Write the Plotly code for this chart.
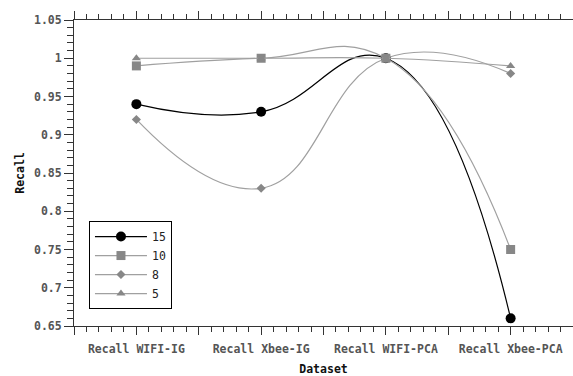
import plotly.graph_objects as go

categories = ["Recall WIFI-IG", "Recall Xbee-IG", "Recall WIFI-PCA", "Recall Xbee-PCA"]
series_names = ["15", "10", "8", "5"]
s15 = [0.94, 0.93, 1.0, 0.66]
s10 = [0.99, 1.0, 1.0, 0.75]
s8 = [0.92, 0.83, 1.0, 0.98]
s5 = [1.0, 1.0, 1.0, 0.99]
y_ticks = [0.65, 0.7, 0.75, 0.8, 0.85, 0.9, 0.95, 1.0, 1.05]
y_ticktext = ["0.65", "0.7", "0.75", "0.8", "0.85", "0.9", "0.95", "1", "1.05"]

xpos = list(range(len(categories)))
styles = [
    dict(line=dict(color="#000000", width=1.2), marker=dict(symbol="circle", size=10, color="#000000")),
    dict(line=dict(color="#a0a0a0", width=1.2), marker=dict(symbol="square", size=9, color="#878787")),
    dict(line=dict(color="#a0a0a0", width=1.2), marker=dict(symbol="diamond", size=7, color="#878787")),
    dict(line=dict(color="#a0a0a0", width=1.2), marker=dict(symbol="triangle-up", size=8, color="#878787")),
]

fig = go.Figure()
for name, vals, st in zip(series_names, [s15, s10, s8, s5], styles):
    fig.add_trace(go.Scatter(
        x=xpos, y=vals, name=name, mode="lines+markers",
        line=dict(shape="spline", smoothing=1.3, **st["line"]),
        marker=st["marker"],
    ))

major_x = [i * 0.5 - 0.5 for i in range(9)]
major_text = [f"<b>{categories[int(v)]}</b>" if abs(v - round(v)) < 1e-9 else "" for v in major_x]
y_text_bold = [f"<b>{t}</b>" for t in y_ticktext]

tickfont = dict(family="DejaVu Sans Mono", size=11.5, color="#555555")
fig.update_layout(
    width=573, height=376,
    margin=dict(l=74, r=0, t=20, b=50),
    paper_bgcolor="white", plot_bgcolor="white",
    font=dict(family="DejaVu Sans Mono", color="#222222"),
    showlegend=True,
    legend=dict(
        x=0.03, y=0.343, xanchor="left", yanchor="top",
        bordercolor="#000000", borderwidth=1, bgcolor="white",
        font=dict(family="DejaVu Sans Mono", size=11.5, color="#222222"),
        itemwidth=52, tracegroupgap=0,
    ),
    xaxis=dict(
        range=[-0.5, 3.5], tickmode="array", tickvals=major_x, ticktext=major_text,
        ticks="outside", ticklen=8, tickcolor="#333333", tickwidth=1,
        showline=True, linecolor="#333333", linewidth=1, mirror="ticks",
        showgrid=False, zeroline=False, tickfont=tickfont, automargin=False,
        ticklabelstandoff=4,
        minor=dict(tick0=-0.5, dtick=0.1, ticks="outside", ticklen=5, tickcolor="#333333", showgrid=False),
        title=dict(text="<b>Dataset</b>", font=dict(family="DejaVu Sans Mono", size=11.5, color="#111111"), standoff=10),
    ),
    yaxis=dict(
        range=[0.65, 1.05], tickmode="array", tickvals=y_ticks, ticktext=y_text_bold,
        ticks="outside", ticklen=9, tickcolor="#333333", tickwidth=1,
        showline=True, linecolor="#333333", linewidth=1,
        showgrid=False, zeroline=False, tickfont=tickfont, automargin=False,
        minor=dict(dtick=0.01, tick0=0.65, ticks="outside", ticklen=6, tickcolor="#333333", showgrid=False),
        title=dict(text="<b>Recall</b>", font=dict(family="DejaVu Sans Mono", size=11.5, color="#111111"), standoff=6),
    ),
)

fig.write_html("out.html", config={"displayModeBar": False},
               post_script="document.body.style.margin='0';document.body.style.padding='0';")
